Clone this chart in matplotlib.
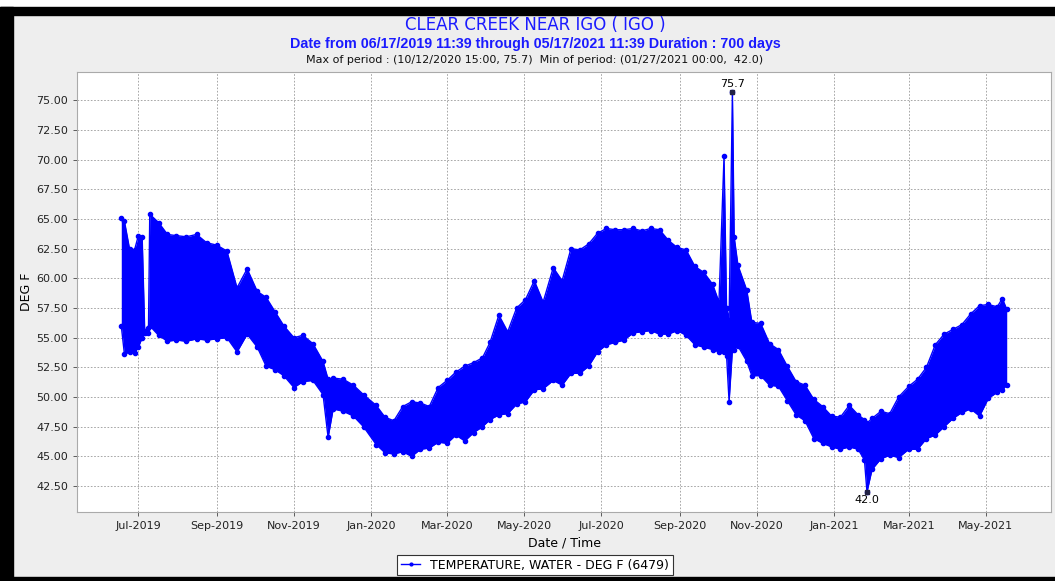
import matplotlib
matplotlib.use("Agg")
import matplotlib.pyplot as plt
import matplotlib.dates as mdates
from matplotlib.lines import Line2D
from matplotlib.patches import Rectangle
import pandas as pd

# envelope of the hourly readings (date, daily low, daily high)
dates = [
    "2019-06-17 11:39", "2019-06-20", "2019-06-24", "2019-06-28", "2019-07-01", "2019-07-04",
    "2019-07-06", "2019-07-09", "2019-07-10", "2019-07-17", "2019-07-24", "2019-07-31",
    "2019-08-08", "2019-08-16", "2019-08-24", "2019-09-01", "2019-09-09", "2019-09-17",
    "2019-09-25", "2019-10-03", "2019-10-10", "2019-10-17", "2019-10-24", "2019-11-01",
    "2019-11-08", "2019-11-16", "2019-11-24", "2019-11-28", "2019-12-02", "2019-12-10",
    "2019-12-18", "2019-12-26", "2020-01-05", "2020-01-12", "2020-01-19", "2020-01-26",
    "2020-02-02", "2020-02-09", "2020-02-16", "2020-02-23", "2020-03-01", "2020-03-08",
    "2020-03-15", "2020-03-22", "2020-03-29", "2020-04-04", "2020-04-11", "2020-04-18",
    "2020-04-25", "2020-05-02", "2020-05-09", "2020-05-16", "2020-05-24", "2020-05-31",
    "2020-06-07", "2020-06-14", "2020-06-21", "2020-06-28", "2020-07-05", "2020-07-12",
    "2020-07-19", "2020-07-26", "2020-08-02", "2020-08-09", "2020-08-16", "2020-08-23",
    "2020-08-30", "2020-09-06", "2020-09-13", "2020-09-20", "2020-09-27", "2020-10-02",
    "2020-10-06", "2020-10-08", "2020-10-10", "2020-10-12 15:00", "2020-10-14", "2020-10-17",
    "2020-10-24", "2020-10-28", "2020-11-04", "2020-11-11", "2020-11-18", "2020-11-25",
    "2020-12-02", "2020-12-09", "2020-12-16", "2020-12-23", "2020-12-30", "2021-01-06",
    "2021-01-13", "2021-01-20", "2021-01-25", "2021-01-27 00:00", "2021-01-31", "2021-02-07",
    "2021-02-14", "2021-02-21", "2021-03-01", "2021-03-08", "2021-03-15", "2021-03-22",
    "2021-03-29", "2021-04-05", "2021-04-12", "2021-04-19", "2021-04-26", "2021-05-03",
    "2021-05-10", "2021-05-14", "2021-05-17 11:39",
]
temp_low = [
    56.0, 53.6, 53.8, 53.7, 54.2, 55.0,
    55.4, 55.4, 56.0, 55.2, 54.7, 54.8,
    54.7, 54.9, 54.8, 54.9, 55.0, 53.8,
    55.3, 54.2, 52.6, 52.3, 51.8, 50.8,
    51.3, 51.4, 50.2, 46.6, 49.0, 48.8,
    48.4, 47.5, 46.0, 45.3, 45.2, 45.4,
    45.0, 45.6, 45.7, 46.2, 46.1, 46.8,
    46.3, 47.0, 47.5, 48.1, 48.5, 48.6,
    49.4, 49.6, 50.6, 50.7, 51.4, 51.0,
    52.0, 52.0, 52.6, 53.8, 54.4, 54.6,
    54.8, 55.4, 55.5, 55.6, 55.3, 55.3,
    55.6, 55.2, 54.4, 54.2, 54.0, 53.8,
    53.8, 53.5, 49.6, 54.0, 54.0, 54.3,
    53.0, 51.8, 51.8, 51.0, 50.9, 49.7,
    48.5, 48.0, 46.5, 46.1, 45.8, 45.6,
    45.8, 45.6, 44.7, 42.0, 43.9, 44.8,
    45.1, 44.9, 45.6, 45.6, 46.5, 46.8,
    47.5, 48.2, 48.7, 49.0, 48.4, 49.9,
    50.4, 50.6, 51.0,
]
temp_high = [
    65.1, 64.8, 62.5, 62.4, 63.6, 63.5,
    55.6, 55.8, 65.4, 64.7, 63.7, 63.6,
    63.5, 63.7, 63.0, 62.8, 62.3, 59.2,
    60.8, 58.9, 58.4, 57.2, 56.0, 55.0,
    55.2, 54.5, 53.0, 51.5, 51.6, 51.5,
    51.0, 50.2, 49.3, 48.3, 48.0, 49.2,
    49.6, 49.5, 49.2, 50.8, 51.4, 52.1,
    52.6, 52.9, 53.3, 54.6, 56.9, 55.5,
    57.5, 58.2, 59.8, 58.0, 60.9, 59.8,
    62.5, 62.4, 62.9, 63.8, 64.2, 64.1,
    64.1, 64.2, 64.0, 64.2, 64.1, 63.2,
    62.6, 62.4, 61.0, 60.5, 59.5, 58.0,
    70.3, 57.5, 56.5, 75.7, 63.5, 61.1,
    59.0, 56.3, 56.2, 54.5, 54.0, 52.6,
    51.3, 51.0, 49.8, 49.2, 48.4, 48.3,
    49.3, 48.5, 48.1, 47.8, 48.2, 48.8,
    48.6, 50.0, 50.9, 51.5, 52.5, 54.4,
    55.3, 55.7, 56.1, 57.0, 57.7, 57.8,
    57.6, 58.3, 57.4,
]

x_ticks = pd.date_range("2019-07-01", "2021-05-01", freq="2MS")
y_ticks = [42.5 + 2.5 * i for i in range(14)]

t = pd.to_datetime(dates, format="mixed")
t_start, t_end = t[0], t[-1]
v_max, v_min = max(temp_high), min(temp_low)
i_max, i_min = temp_high.index(v_max), temp_low.index(v_min)

W, H = 1055, 581
plt.rcParams["font.family"] = ["DejaVu Sans"]
fig = plt.figure(figsize=(W / 100, H / 100), dpi=100, facecolor="#eeeeee")

# frame around the panel
fig.add_artist(Rectangle((0, 1 - 7 / H), 1, 7 / H, transform=fig.transFigure, color="white", zorder=0))
fig.add_artist(Rectangle((0, 1 - 15 / H), 1, 8 / H, transform=fig.transFigure, color="black", zorder=0))
fig.add_artist(Rectangle((0, 0), 13 / W, 1 - 7 / H, transform=fig.transFigure, color="black", zorder=0))
fig.add_artist(Rectangle((0, 0), 1, 4 / H, transform=fig.transFigure, color="black", zorder=0))

ax = fig.add_axes([77 / W, (H - 512) / H, (1051 - 77) / W, (512 - 72) / H])
ax.set_facecolor("white")

blue = "#0000ff"
ax.fill_between(t, temp_low, temp_high, color=blue, lw=0, zorder=3)
ax.plot(t, temp_high, color=blue, lw=1, marker="o", ms=3, zorder=4)
ax.plot(t, temp_low, color=blue, lw=1, marker="o", ms=3, zorder=4)

# max / min markers
ax.plot(t[i_max], v_max, "s", color="#222244", ms=3.5, zorder=5)
ax.plot(t[i_min], v_min, "s", color="#222244", ms=3.5, zorder=5)
ax.annotate(f"{v_max:.1f}", (t[i_max], v_max), xytext=(0, 2), textcoords="offset points",
            ha="center", va="bottom", fontsize=8)
ax.annotate(f"{v_min:.1f}", (t[i_min], v_min), xytext=(0, -2), textcoords="offset points",
            ha="center", va="top", fontsize=8)

pad = (t_end - t_start) * 0.05
ax.set_xlim(t_start - pad, t_end + pad)
rng = v_max - v_min
ax.set_ylim(v_min - rng * 0.05, v_max + rng * 0.05)

ax.set_xticks(x_ticks)
ax.xaxis.set_major_formatter(mdates.DateFormatter("%b-%Y"))
ax.set_yticks(y_ticks)
ax.yaxis.set_major_formatter(plt.FormatStrFormatter("%.2f"))
ax.tick_params(labelsize=8, colors="#444444", length=3, width=0.6)
ax.tick_params(labelcolor="#222222")
ax.grid(True, color="#999999", linestyle=(0, (2, 2)), lw=0.6)
for s in ax.spines.values():
    s.set_color("#aaaaaa")

ax.set_xlabel("Date / Time", fontsize=9)
ax.xaxis.set_label_coords(0.5, (512 - 537) / 440, transform=ax.transAxes)
ax.set_ylabel("DEG F", fontsize=9)
ax.yaxis.set_label_coords((33 - 77) / 974, 0.5, transform=ax.transAxes)

cx = 535 / W
fig.text(cx, 1 - 25 / H, "CLEAR CREEK NEAR IGO ( IGO )", ha="center", va="center",
         color="#1a1aff", fontsize=12)
fig.text(cx, 1 - 44 / H,
         "Date from 06/17/2019 11:39 through 05/17/2021 11:39 Duration : 700 days",
         ha="center", va="center", color="#1a1aff", fontsize=10.3, fontweight="bold",
         family=["Liberation Sans", "DejaVu Sans"])
fig.text(cx, 1 - 60 / H,
         "Max of period : (10/12/2020 15:00, 75.7)  Min of period: (01/27/2021 00:00,  42.0)",
         ha="center", va="center", color="#111111", fontsize=8)

handle = Line2D([], [], color=blue, lw=1, marker="o", ms=2)
leg = fig.legend([handle], ["TEMPERATURE, WATER - DEG F (6479)"], loc="center",
                 bbox_to_anchor=(535 / W, 1 - 565 / H), fontsize=9, fancybox=False,
                 framealpha=1, edgecolor="#333333", handlelength=1.5, borderpad=0.3)
leg.get_frame().set_linewidth(0.8)

fig.savefig("out.png", dpi=100, facecolor=fig.get_facecolor())
